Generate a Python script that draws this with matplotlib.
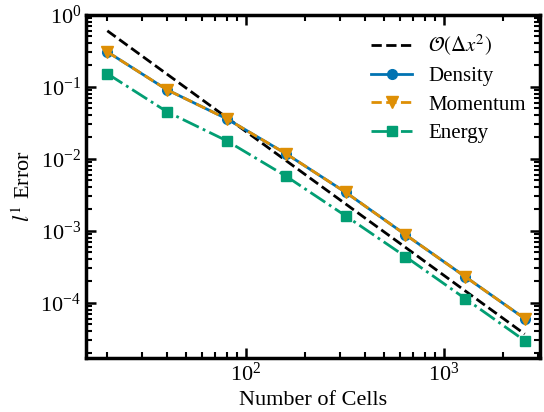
import numpy as np
import matplotlib
matplotlib.use("Agg")
import matplotlib.pyplot as plt

plt.rcParams["font.family"] = ["Liberation Serif", "DejaVu Serif"]
plt.rcParams["mathtext.fontset"] = "stix"

# data
cells = [20, 40, 80, 160, 320, 640, 1280, 2560]
ref_order2 = [0.6, 0.15, 0.0375, 0.00938, 0.00234, 5.86e-4, 1.46e-4, 3.66e-5]
density = [0.306, 0.091, 0.036, 0.0117, 0.0034, 8.8e-4, 2.3e-4, 6.0e-5]
momentum = [0.306, 0.091, 0.036, 0.0117, 0.0034, 8.8e-4, 2.3e-4, 6.0e-5]
energy = [0.152, 0.045, 0.0178, 0.0057, 0.0016, 4.36e-4, 1.14e-4, 2.96e-5]

blue, orange, green = "#0173b2", "#de8f05", "#029e73"

fig, ax = plt.subplots(figsize=(5.44, 4.12), dpi=100)
ax.loglog(cells, ref_order2, "k--", lw=2, label=r"$\mathcal{O}(\Delta x^2)$")
ax.loglog(cells, density, "-o", color=blue, lw=2, ms=7, label="Density")
ax.loglog(cells, momentum, "--v", color=orange, lw=2, ms=8, label="Momentum")
ax.loglog(cells, energy, "-.s", color=green, lw=2, ms=6.5, label="Energy")

ax.set_xlim(15.6, 3065)
ax.set_ylim(1.72e-5, 1.0)
ax.set_xlabel("Number of Cells", fontsize=16)
ax.set_ylabel(r"$l^1$ Error", fontsize=16)

for s in ax.spines.values():
    s.set_linewidth(2.5)
ax.tick_params(which="both", direction="in", top=True, right=True, labelsize=16)
ax.tick_params(which="major", length=7, width=1.8)
ax.tick_params(which="minor", length=4, width=1.5)

ax.legend(loc="upper right", bbox_to_anchor=(1.0, 0.99), frameon=False,
          fontsize=15, handlelength=2.0, labelspacing=0.42,
          handletextpad=0.75, borderaxespad=0.3)

fig.subplots_adjust(left=0.158, right=0.993, top=0.964, bottom=0.132)
fig.savefig("out.png", dpi=100)
